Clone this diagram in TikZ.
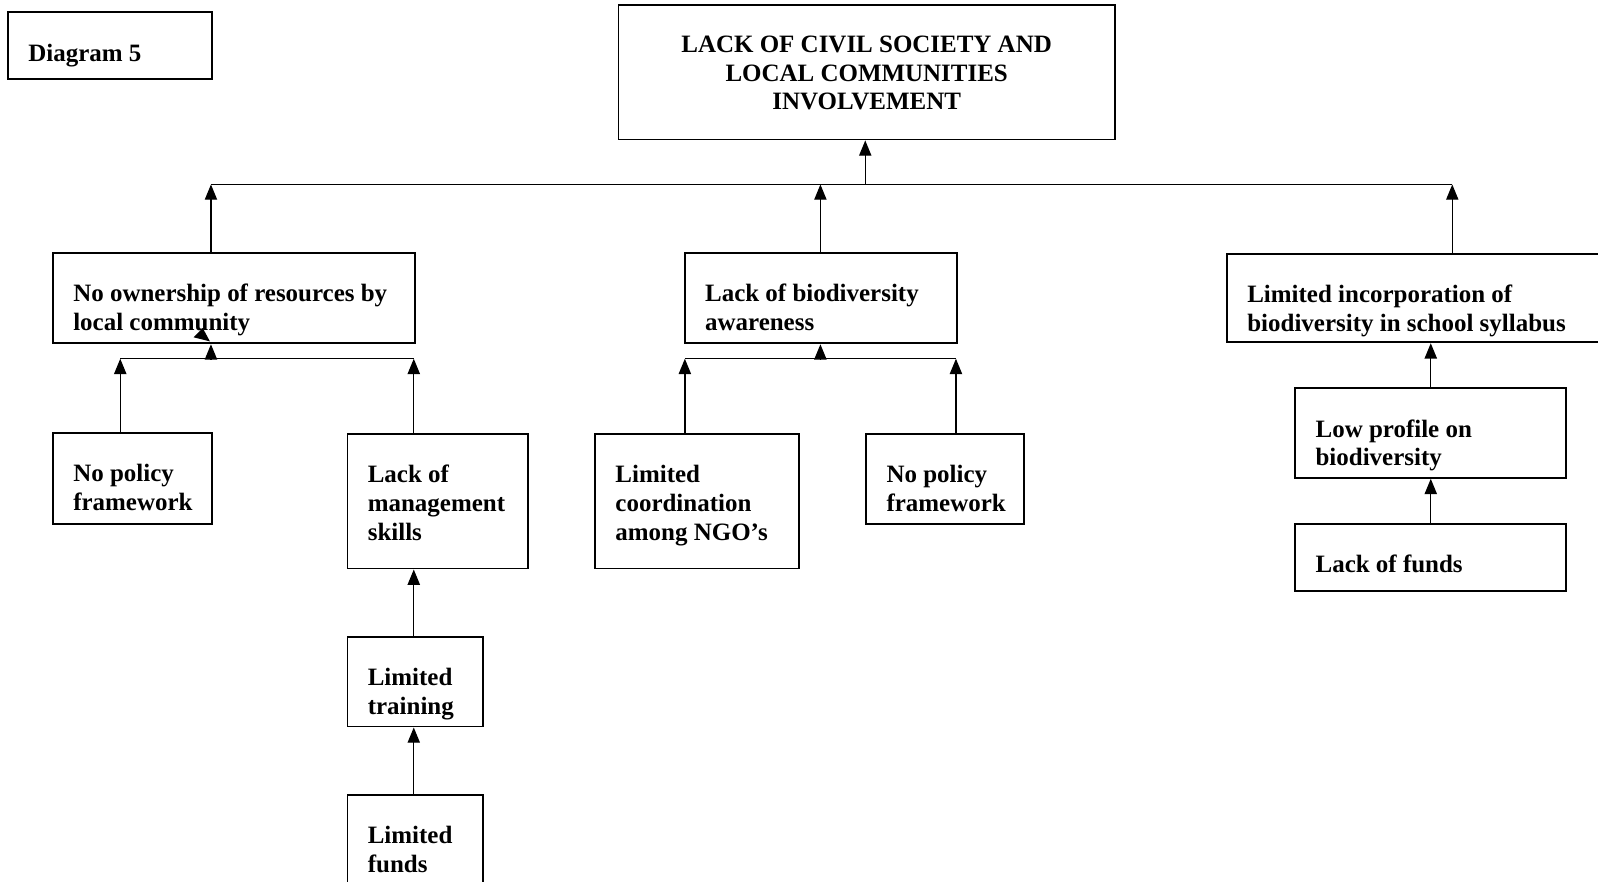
\documentclass[tikz,border=0pt]{standalone}
\usepackage{fontspec}
\setmainfont{Liberation Serif}
\usetikzlibrary{arrows.meta}
\newcommand\bxl[3]{\parbox[t][#1][t]{#2}{\raggedright\vspace*{14.2pt}\strut #3}}
\newcommand\bxc[3]{\parbox[t][#1][t]{#2}{\centering\vspace*{13.7pt}\strut #3}}
\tikzset{
  box/.style={draw, line width=0.9pt, rectangle, anchor=north west, inner xsep=10pt, inner ysep=0pt,
    font=\fontsize{12.25}{14}\selectfont\bfseries},
  conn/.style={line width=0.65pt},
  arr/.style={line width=0.65pt, -{Triangle[length=7.5pt,width=6pt]}}
}
\begin{document}
\begin{tikzpicture}[x=0.5pt,y=-0.5pt]
\useasboundingbox (0,0) rectangle (1568,865);
\clip (0,0) rectangle (1568,865);
\fill[white] (0,0) rectangle (1568,865);
% boxes
\node[box] (d5) at (7,11) {\bxl{33pt}{80pt}{Diagram 5}};
\node[box] (top) at (606,4) {\bxc{66pt}{223.5pt}{LACK OF CIVIL SOCIETY AND\\LOCAL COMMUNITIES\\INVOLVEMENT}};
\node[box] (A) at (51,247) {\bxl{44.5pt}{157.5pt}{No ownership of resources by\\local community}};
\node[box] (B) at (671,247) {\bxl{44.5pt}{113.5pt}{Lack of biodiversity\\awareness}};
\node[box] (C) at (1203,248) {\bxl{43.5pt}{180pt}{Limited incorporation of\\biodiversity in school syllabus}};
\node[box] (np1) at (51,424) {\bxl{44.5pt}{58pt}{No policy\\framework}};
\node[box] (lms) at (340,425) {\bxl{66pt}{68.5pt}{Lack of\\management\\skills}};
\node[box] (lt) at (340,624) {\bxl{44pt}{46.5pt}{Limited\\training}};
\node[box] (lf) at (340,779) {\bxl{50pt}{46.5pt}{Limited\\funds}};
\node[box] (lc) at (583,425) {\bxl{66pt}{80pt}{Limited\\coordination\\among NGO’s}};
\node[box] (np2) at (849,425) {\bxl{44pt}{57.5pt}{No policy\\framework}};
\node[box] (lp) at (1270,380) {\bxl{44pt}{113pt}{Low profile on\\biodiversity}};
\node[box] (lof) at (1270,513) {\bxl{33pt}{113pt}{Lack of funds}};
% junctions
\coordinate (J0) at (849,181);
\coordinate (JA) at (207,181);
\coordinate (JB) at (805,181);
\coordinate (JC) at (1425,181);
\coordinate (SA) at (207,352);
\coordinate (SA1) at (118,352);
\coordinate (SA2) at (406,352);
\coordinate (SB) at (805,352);
\coordinate (SB1) at (672,352);
\coordinate (SB2) at (938,352);
% connectors
\draw[conn] (JA) -- (JC);
\draw[arr] (J0) -- (J0 |- top.south);
\draw[arr] (JA |- A.north) -- (JA);
\draw[arr] (JB |- B.north) -- (JB);
\draw[arr] (JC |- C.north) -- (JC);
\draw[conn] (SA1) -- (SA2);
\draw[arr] (SA) -- (SA |- A.south);
\draw[arr] (SA1 |- np1.north) -- (SA1);
\draw[arr] (SA2 |- lms.north) -- (SA2);
\draw[arr] (SA2 |- lt.north) -- (SA2 |- lms.south);
\draw[arr] (SA2 |- lf.north) -- (SA2 |- lt.south);
\draw[conn] (SB1) -- (SB2);
\draw[arr] (SB) -- (SB |- B.south);
\draw[arr] (SB1 |- lc.north) -- (SB1);
\draw[arr] (SB2 |- np2.north) -- (SB2);
\draw[arr] (lp.north) -- (lp.north |- C.south);
\draw[arr] (lof.north) -- (lof.north |- lp.south);
% stray arrowhead
\fill (199,322) -- (190,331) -- (206,335) -- cycle;
\end{tikzpicture}
\end{document}
